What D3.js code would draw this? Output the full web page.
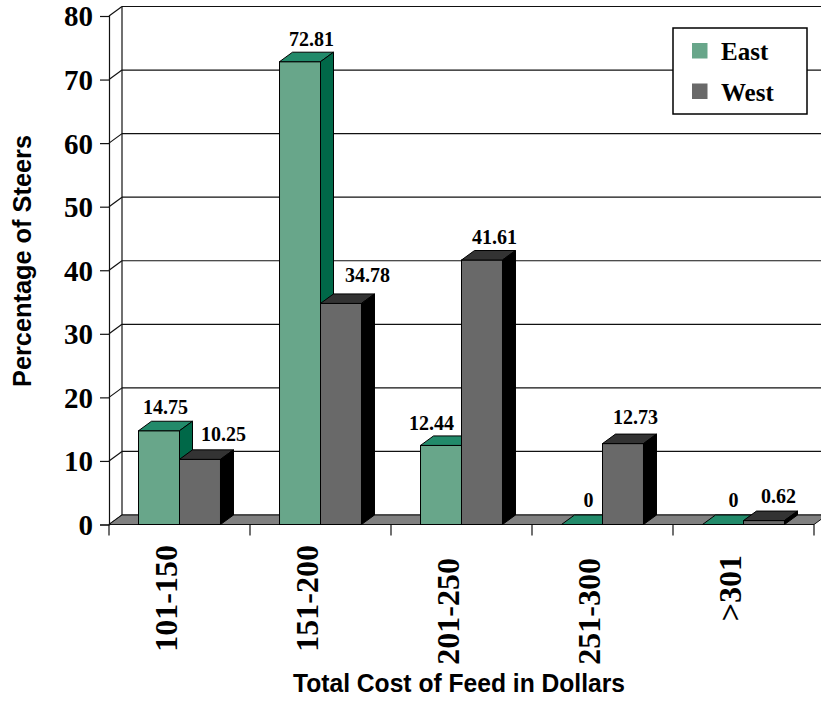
<!DOCTYPE html>
<html>
<head>
<meta charset="utf-8">
<script src="https://cdn.jsdelivr.net/npm/d3@7"></script>
<style>
  html, body { margin: 0; padding: 0; background: #fff; }
  svg { display: block; }
</style>
</head>
<body>
<svg id="chart" width="821" height="705"></svg>
<script>
// Feed cost distribution of steers, East vs West
const categories = ["101-150", "151-200", "201-250", "251-300", ">301"];
const seriesNames = ["East", "West"];
const eastValues = [14.75, 72.81, 12.44, 0, 0];
const westValues = [10.25, 34.78, 41.61, 12.73, 0.62];
const yTicks = [0, 10, 20, 30, 40, 50, 60, 70, 80];

// Visual styling for each series: front face, top face, side face
const faces = {
  East: { front: "#68a68a", top: "#228a6a", side: "#006848" },
  West: { front: "#696969", top: "#333333", side: "#000000" }
};
// Small label nudges (px) so value labels clear neighbouring bars
const labelShift = {
  East: [[0, -7], [5, -6], [-16, -6], [0, -8], [4, -8]],
  West: [[17, -9], [20, -12], [6, -7], [6, -10], [8, -8]]
};
// Vertical drop (px) of each rotated category label below the axis
const catLabelDrop = [0, 0, 13, 13, 10];

const svg = d3.select("#chart");
const DX = 13, DY = -9.5; // depth offset of the 3D effect

const x = d3.scaleBand().domain(categories).range([109, 814]).paddingInner(0).paddingOuter(0);
const xs = d3.scaleBand().domain(seriesNames).range([0, x.bandwidth()]).paddingInner(0).paddingOuter(0.72);
const y = d3.scaleLinear().domain([0, 80]).range([524.5, 16]);
const y0 = y(0);
const xL = x.range()[0], xR = x.range()[1];

const serif = "'Liberation Serif', 'Times New Roman', serif";
const sans = "'Liberation Sans', Arial, sans-serif";

// Back wall gridlines
svg.append("g").selectAll("line").data(yTicks).join("line")
  .attr("x1", xL + DX).attr("x2", xR + DX + 20)
  .attr("y1", d => y(d) + DY).attr("y2", d => y(d) + DY)
  .attr("stroke", "#111").attr("stroke-width", 1.2);

// Side wall: back edge and diagonal gridlines
svg.append("line")
  .attr("x1", xL + DX).attr("x2", xL + DX)
  .attr("y1", y(80) + DY).attr("y2", y0 + DY)
  .attr("stroke", "#111").attr("stroke-width", 1.2);
svg.append("g").selectAll("line").data(yTicks).join("line")
  .attr("x1", xL).attr("x2", xL + DX)
  .attr("y1", d => y(d)).attr("y2", d => y(d) + DY)
  .attr("stroke", "#111").attr("stroke-width", 1.2);

// Floor
svg.append("polygon")
  .attr("points", [[xL, y0], [xL + DX, y0 + DY], [xR + DX, y0 + DY], [xR, y0]].join(" "))
  .attr("fill", "#808080").attr("stroke", "#111").attr("stroke-width", 1);

// Front value axis
const yAxis = d3.axisLeft(y).tickValues(yTicks).tickSize(9).tickPadding(7).tickFormat(d3.format("d"));
const ya = svg.append("g").attr("transform", `translate(${xL},0)`).call(yAxis);
ya.select(".domain").attr("stroke", "#111").attr("stroke-width", 1.2);
ya.selectAll(".tick line").attr("stroke", "#111").attr("stroke-width", 1.2);
ya.selectAll(".tick text")
  .attr("font-family", serif).attr("font-weight", "bold").attr("font-size", 29)
  .attr("fill", "#000").attr("dy", "0.34em");

// Category axis ticks at band boundaries
const bounds = categories.map(c => x(c)).concat([xR]);
svg.append("g").selectAll("line").data(bounds).join("line")
  .attr("x1", d => d).attr("x2", d => d)
  .attr("y1", y0).attr("y2", y0 + 11)
  .attr("stroke", "#111").attr("stroke-width", 1.2);

// Category labels, rotated
svg.append("g").selectAll("text").data(categories).join("text")
  .attr("transform", (d, i) => `translate(${x(d) + x.bandwidth() / 2 - 3},${545 + catLabelDrop[i]}) rotate(-90)`)
  .attr("text-anchor", "end")
  .attr("font-family", serif).attr("font-weight", "bold").attr("font-size", 32)
  .attr("fill", "#000")
  .text(d => d);

// 3D bars
const rows = [];
categories.forEach((c, i) => {
  rows.push({ cat: c, i, s: "East", v: eastValues[i] });
  rows.push({ cat: c, i, s: "West", v: westValues[i] });
});
const w = xs.bandwidth();
const bars = svg.append("g").selectAll("g").data(rows).join("g");
bars.each(function (d) {
  const g = d3.select(this);
  const bx = x(d.cat) + xs(d.s);
  const by = y(d.v);
  const f = faces[d.s];
  g.append("rect").attr("x", bx).attr("y", by).attr("width", w).attr("height", y0 - by)
    .attr("fill", f.front).attr("stroke", "#000").attr("stroke-width", 1);
  g.append("polygon")
    .attr("points", [[bx, by], [bx + DX, by + DY], [bx + w + DX, by + DY], [bx + w, by]].join(" "))
    .attr("fill", f.top).attr("stroke", "#000").attr("stroke-width", 1);
  g.append("polygon")
    .attr("points", [[bx + w, by], [bx + w + DX, by + DY], [bx + w + DX, y0 + DY], [bx + w, y0]].join(" "))
    .attr("fill", f.side).attr("stroke", "#000").attr("stroke-width", 1);
});

// Value labels
svg.append("g").selectAll("text").data(rows).join("text")
  .attr("x", d => x(d.cat) + xs(d.s) + w / 2 + DX / 2 + labelShift[d.s][d.i][0])
  .attr("y", d => y(d.v) + DY + labelShift[d.s][d.i][1])
  .attr("text-anchor", "middle")
  .attr("font-family", serif).attr("font-weight", "bold").attr("font-size", 20)
  .attr("fill", "#000")
  .text(d => d3.format(".2f")(d.v).replace(/^0\.00$/, "0"));

// Legend
const lg = svg.append("g");
lg.append("rect").attr("x", 673).attr("y", 28).attr("width", 134).attr("height", 86)
  .attr("fill", "#fff").attr("stroke", "#000").attr("stroke-width", 1.5);
seriesNames.forEach((s, k) => {
  lg.append("rect").attr("x", 692).attr("y", 43 + k * 40.5).attr("width", 15.5).attr("height", 15.5)
    .attr("fill", faces[s].front);
  lg.append("text").attr("x", 721).attr("y", 60 + k * 41)
    .attr("font-family", serif).attr("font-weight", "bold").attr("font-size", 25)
    .attr("fill", "#000").text(s);
});

// Axis titles
svg.append("text")
  .attr("x", 459).attr("y", 692).attr("text-anchor", "middle")
  .attr("font-family", sans).attr("font-weight", "bold").attr("font-size", 25)
  .attr("textLength", 332).attr("lengthAdjust", "spacingAndGlyphs")
  .attr("fill", "#000").text("Total Cost of Feed in Dollars");
svg.append("text")
  .attr("transform", "translate(31,261) rotate(-90)").attr("text-anchor", "middle")
  .attr("font-family", sans).attr("font-weight", "bold").attr("font-size", 25)
  .attr("textLength", 252).attr("lengthAdjust", "spacingAndGlyphs")
  .attr("fill", "#000").text("Percentage of Steers");
</script>
</body>
</html>
